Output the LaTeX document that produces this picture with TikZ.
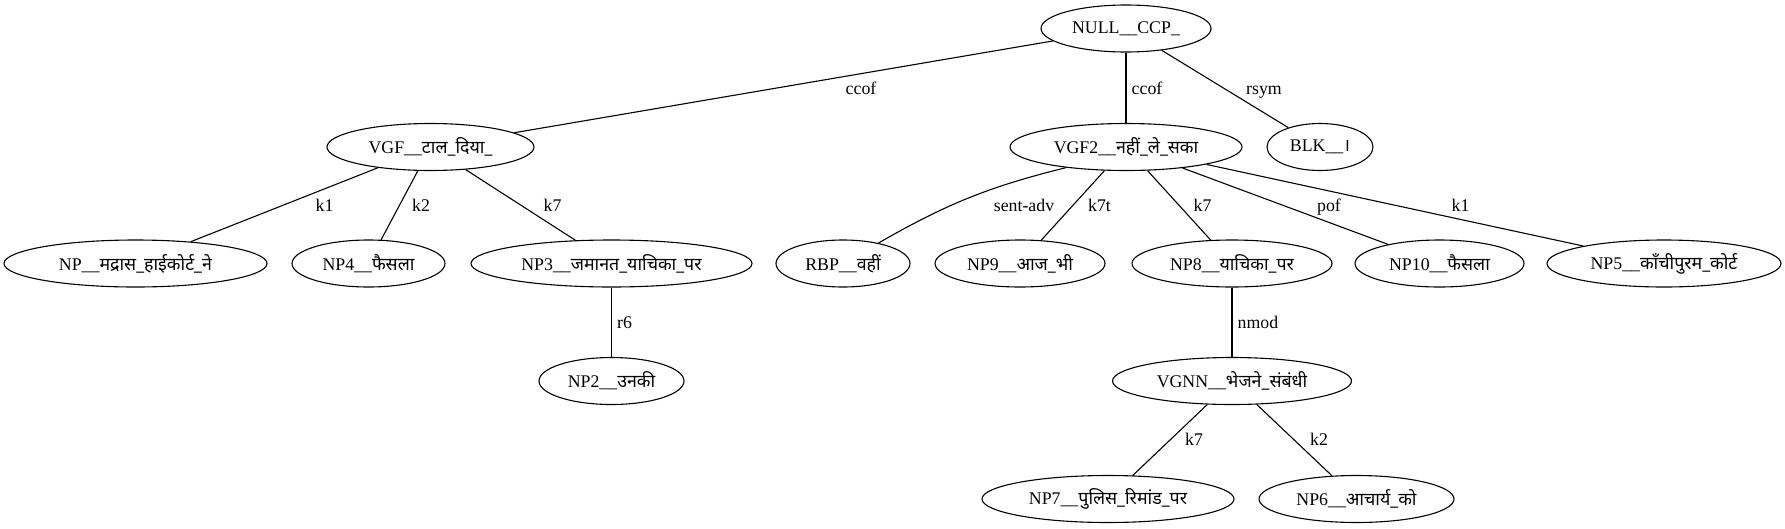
\documentclass[tikz,border=0pt]{standalone}
\usepackage{fontspec}
\setmainfont{Liberation Serif}
\newfontfamily\devfont[Script=Devanagari]{Noto Sans}
\usetikzlibrary{shapes.geometric}
\newcommand{\hi}[1]{{\devfont #1}}
\begin{document}
\begin{tikzpicture}[x=1pt,y=-1pt,
  font=\fontsize{17.8}{21}\selectfont,
  line width=1.1pt,
  ell/.style={draw, ellipse, inner sep=0pt, minimum height=47pt, minimum width=#1},
  elab/.style={anchor=base, inner sep=0pt}]
\useasboundingbox (0,0) rectangle (1785,528);
% row 0
\node[ell=170pt, label={center:NULL\_\_CCP\_}] (null) at (1126,28.5) {};
% row 1
\node[ell=207pt, label={center:VGF\_\_\hi{टाल\_दिया\_}}] (vgf) at (430.5,147) {};
\node[ell=232pt, label={center:VGF2\_\_\hi{नहीं\_ले\_सका}}] (vgf2) at (1126,147) {};
\node[ell=106pt, label={center:BLK\_\_\hi{।}}] (blk) at (1320,147) {};
% row 2
\node[ell=263pt, label={center:NP\_\_\hi{मद्रास\_हाईकोर्ट\_ने}}] (np) at (135.5,263.5) {};
\node[ell=153pt, label={center:NP4\_\_\hi{फैसला}}] (np4) at (368.5,263.5) {};
\node[ell=281pt, label={center:NP3\_\_\hi{जमानत\_याचिका\_पर}}] (np3) at (611.5,263.5) {};
\node[ell=134pt, label={center:RBP\_\_\hi{वहीं}}] (rbp) at (843,263.5) {};
\node[ell=170pt, label={center:NP9\_\_\hi{आज\_भी}}] (np9) at (1020,263.5) {};
\node[ell=200pt, label={center:NP8\_\_\hi{याचिका\_पर}}] (np8) at (1232,263.5) {};
\node[ell=169pt, label={center:NP10\_\_\hi{फैसला}}] (np10) at (1439.5,263.5) {};
\node[ell=234pt, label={center:NP5\_\_\hi{काँचीपुरम\_कोर्ट}}] (np5) at (1664,263.5) {};
% row 3
\node[ell=145pt, label={center:NP2\_\_\hi{उनकी}}] (np2) at (611.5,381) {};
\node[ell=239pt, label={center:VGNN\_\_\hi{भेजने\_संबंधी}}] (vgnn) at (1232,381) {};
% row 4
\node[ell=252pt, label={center:NP7\_\_\hi{पुलिस\_रिमांड\_पर}}] (np7) at (1108,499) {};
\node[ell=195pt, label={center:NP6\_\_\hi{आचार्य\_को}}] (np6) at (1356.5,499) {};
% edges
\draw (null) -- (vgf) node[elab] (l1) at (861,94) {ccof};
\draw (null) -- (vgf2) node[elab] (l2) at (1147,94) {ccof};
\draw (null) -- (blk) node[elab] (l3) at (1264,94) {rsym};
\draw (vgf) -- (np) node[elab] (l4) at (324.5,211) {k1};
\draw (vgf) -- (np4) node[elab] (l5) at (421,211) {k2};
\draw (vgf) -- (np3) node[elab] (l6) at (552.5,211) {k7};
\draw (vgf2.199) to[bend right=8] (rbp.30);
\node[elab] (l7) at (1024,211) {sent-adv};
\draw (vgf2) -- (np9) node[elab] (l8) at (1099.5,211) {k7t};
\draw (vgf2) -- (np8) node[elab] (l9) at (1202.5,211) {k7};
\draw (vgf2) -- (np10) node[elab] (l10) at (1329,211) {pof};
\draw (vgf2) -- (np5) node[elab] (l11) at (1460.5,211) {k1};
\draw (np3) -- (np2) node[elab] (l12) at (624.5,328) {r6};
\draw (np8) -- (vgnn) node[elab] (l13) at (1258,328) {nmod};
\draw (vgnn) -- (np7) node[elab] (l14) at (1194,445) {k7};
\draw (vgnn) -- (np6) node[elab] (l15) at (1319,445) {k2};
\end{tikzpicture}
\end{document}
